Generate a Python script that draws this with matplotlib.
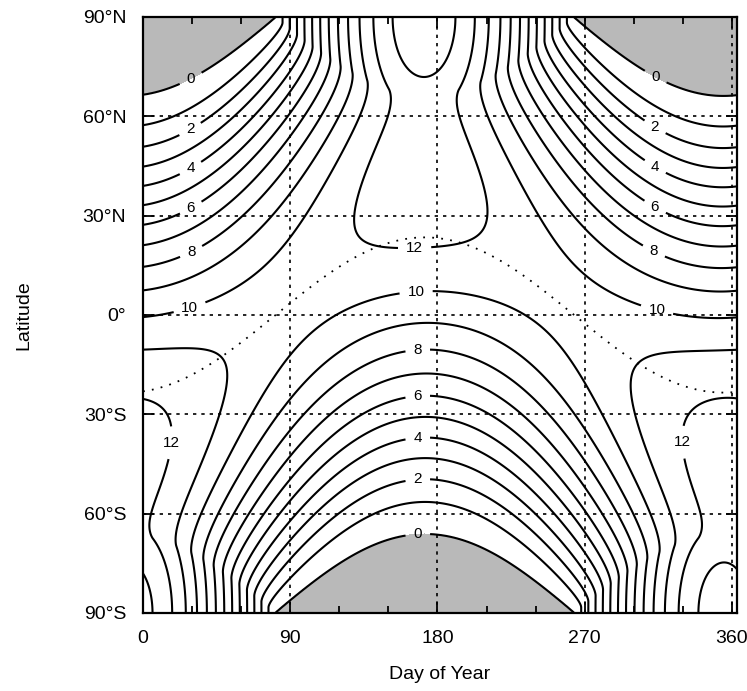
import matplotlib

matplotlib.use("Agg")
import matplotlib.pyplot as plt
import numpy as np

plt.rcParams["font.family"] = ["Liberation Sans", "DejaVu Sans"]

# orbital / solar parameters used for the daily-mean insolation field
solar_constant = 1367.0  # W m-2
obliquity = 23.44  # degrees
ecc_amplitude = 0.0334  # (r0/r)^2 - 1 amplitude
perihelion_day = 3
equinox_day = 81

# contour levels (kWh m-2 day-1) and which ones carry labels
contour_levels = [0, 1, 2, 3, 4, 5, 6, 7, 8, 9, 10, 11, 12, 13]
label_text = {0: "0", 2: "2", 4: "4", 6: "6", 8: "8", 10: "10", 11: "12", 12: "12"}

# label anchors (day, latitude)
label_days = [29, 29, 29, 29, 29, 29, 313, 313, 313, 313, 313, 314,
              166, 167, 168, 168, 168, 168, 168, 13, 331]
label_lats = [71.6, 56, 44.4, 32.6, 19.6, 1.5, 71.6, 56.8, 44.7, 32.6, 20, 1.2,
              21, 6.6, -11, -25, -37.5, -50, -66.5, -38.4, -38.4]

day_ticks = [0, 90, 180, 270, 360]
day_minor = [30, 60, 120, 150, 210, 240, 300, 330]
lat_ticks = [-90, -60, -30, 0, 30, 60, 90]
lat_labels = ["90°S", "60°S", "30°S", "0°", "30°N", "60°N", "90°N"]


def declination(day):
    return obliquity * np.sin(2 * np.pi * (day - equinox_day) / 365.0)


def daily_insolation(day, lat):
    """Daily-mean top-of-atmosphere insolation in kWh m-2 day-1."""
    dec = np.radians(declination(day))
    phi = np.radians(lat)
    dist = 1 + ecc_amplitude * np.cos(2 * np.pi * (day - perihelion_day) / 365.0)
    cos_h0 = np.clip(-np.tan(phi) * np.tan(dec), -1, 1)
    h0 = np.arccos(cos_h0)
    q = solar_constant * dist / np.pi * (
        h0 * np.sin(phi) * np.sin(dec) + np.cos(phi) * np.cos(dec) * np.sin(h0)
    )
    return q * 24 / 1000.0


days = np.arange(0, 366, 0.5)
lats = np.linspace(-89.99, 89.99, 721)
D, L = np.meshgrid(days, lats)
Q = daily_insolation(D, L)

fig = plt.figure(figsize=(7.47, 6.91), dpi=100)
ax = fig.add_axes([0.1914, 0.1129, 0.795, 0.8625])

# polar night shading
ax.contourf(D, L, Q, levels=[-1, 0.01], colors=["#b9b9b9"])

# zero level is nudged just above the polar-night plateau
plot_levels = [0.01 if v == 0 else v for v in contour_levels]
plain = [p for p, v in zip(plot_levels, contour_levels) if v not in label_text]
named = [p for p, v in zip(plot_levels, contour_levels) if v in label_text]
fmt = {p: label_text[v] for p, v in zip(plot_levels, contour_levels) if v in label_text}

ax.contour(D, L, Q, levels=plain, colors="black", linewidths=1.5)
cs = ax.contour(D, L, Q, levels=named, colors="black", linewidths=1.5)
texts = ax.clabel(
    cs,
    fmt=fmt,
    fontsize=11,
    inline=True,
    inline_spacing=8,
    manual=list(zip(label_days, label_lats)),
)
for t in texts:
    t.set_rotation(0)

# subsolar latitude
ax.plot(days, declination(days), color="black", lw=1.3, linestyle=(0, (1, 4)))

ax.set_xlim(0, 363)
ax.set_ylim(-90, 90)
ax.set_xticks(day_ticks)
ax.set_xticks(day_minor, minor=True)
ax.set_yticks(lat_ticks)
ax.set_yticklabels(lat_labels)
ax.tick_params(axis="both", which="major", direction="in", length=8, width=1.3,
               top=True, right=True, labelsize=14, pad=12)
ax.tick_params(axis="both", which="minor", direction="in", length=5, width=1.3,
               top=True, right=True)
ax.grid(True, which="major", color="black", linestyle=(0, (2, 3)), linewidth=1.2)

for sp in ax.spines.values():
    sp.set_linewidth(1.6)

ax.set_xlabel("Day of Year", fontsize=14, labelpad=14)
ax.set_ylabel("Latitude", fontsize=14, labelpad=36)

fig.savefig("out.png", dpi=100)
